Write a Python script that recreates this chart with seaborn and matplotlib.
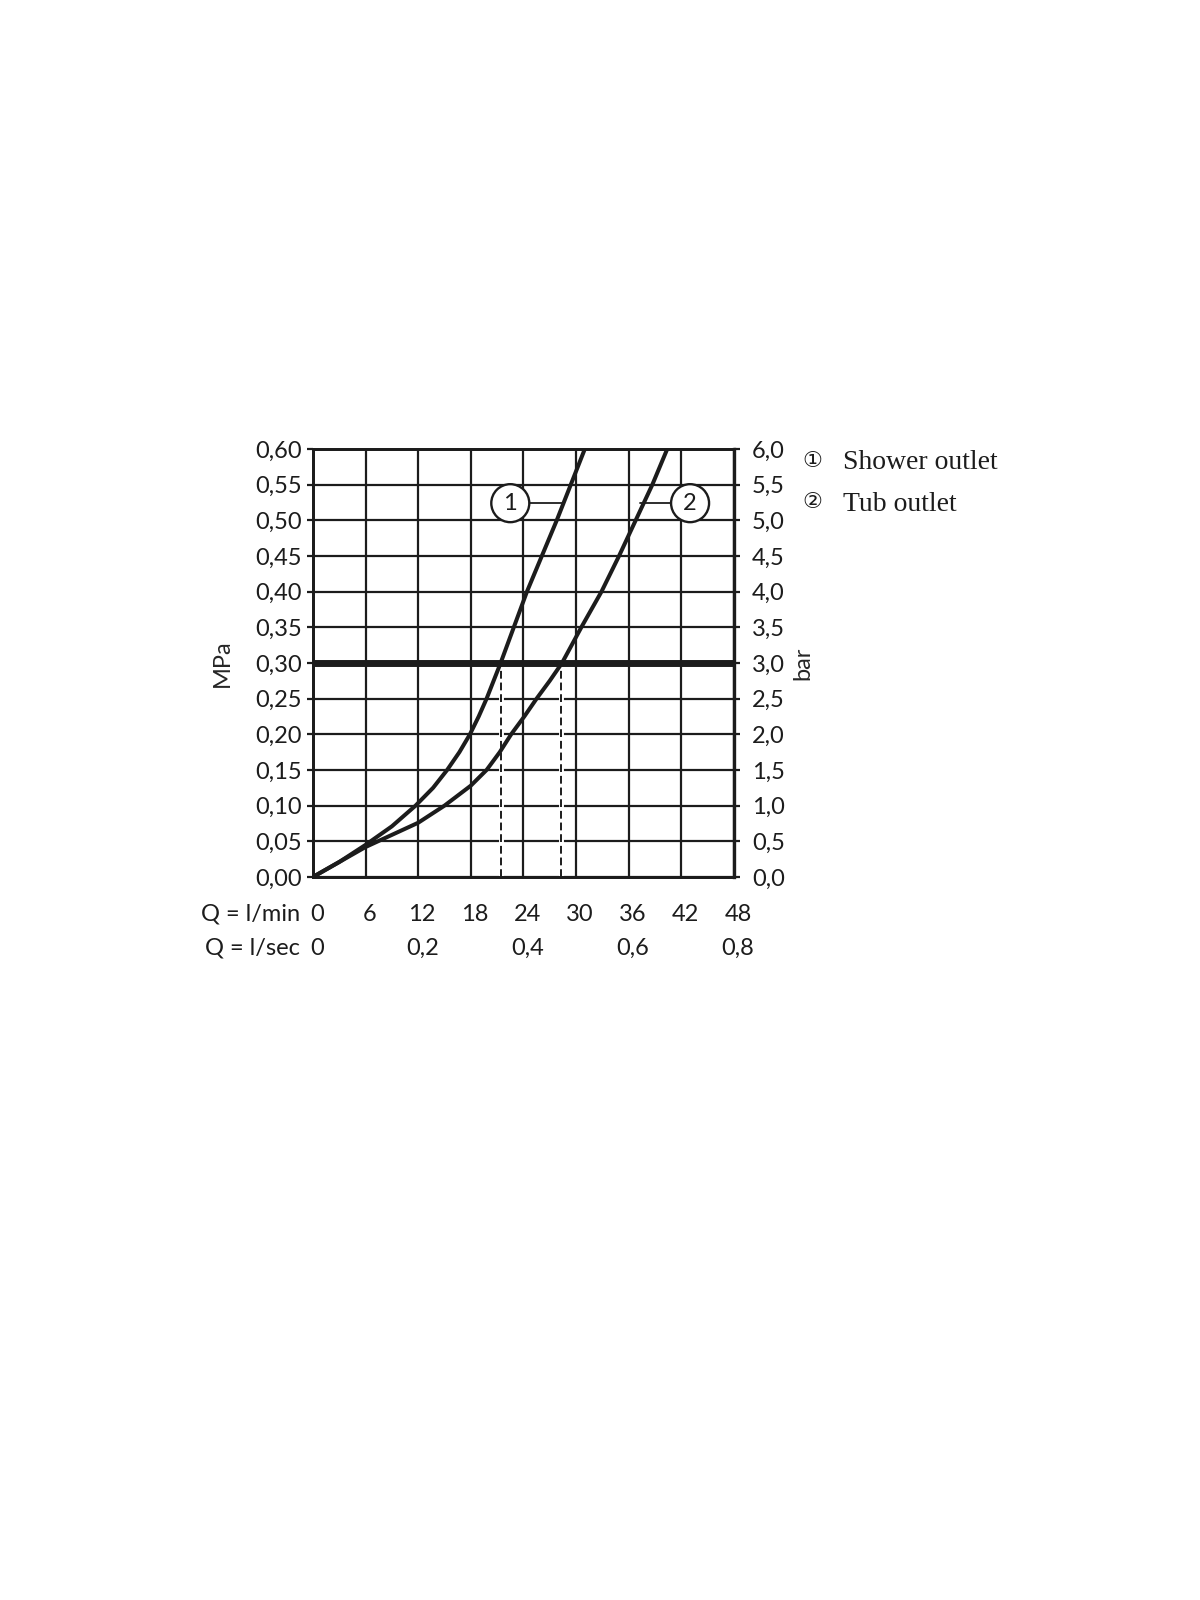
import matplotlib
matplotlib.use('Agg')
import matplotlib.pyplot as plt
import matplotlib.transforms as mtransforms
import seaborn as sns
import pandas as pd

# flow (l/min) vs pressure (MPa)
shower_q = [0, 3, 6, 9, 11.7, 13.7, 15.3, 16.7, 17.9, 18.9, 19.8, 20.6, 21.4, 22.9, 24.4, 26.1, 27.8, 29.4, 31.0]
shower_p = [0, 0.021, 0.045, 0.071, 0.10, 0.125, 0.15, 0.175, 0.20, 0.225, 0.25, 0.275, 0.30, 0.35, 0.40, 0.45, 0.50, 0.55, 0.60]
tub_q = [0, 3, 6, 9, 12, 15, 18, 19.8, 21.3, 22.6, 24.1, 25.5, 27.0, 28.4, 30.6, 32.9, 34.9, 36.8, 38.7, 40.4]
tub_p = [0, 0.021, 0.042, 0.059, 0.076, 0.10, 0.128, 0.15, 0.175, 0.20, 0.225, 0.25, 0.275, 0.30, 0.35, 0.40, 0.45, 0.50, 0.55, 0.60]

ref_pressure = 0.30
ref_flows = [21.4, 28.3]

lmin_ticks = [0, 6, 12, 18, 24, 30, 36, 42, 48]
lsec_ticks = [0, 0.2, 0.4, 0.6, 0.8]
mpa_ticks = [0, 0.05, 0.10, 0.15, 0.20, 0.25, 0.30, 0.35, 0.40, 0.45, 0.50, 0.55, 0.60]
bar_ticks = [0, 0.5, 1.0, 1.5, 2.0, 2.5, 3.0, 3.5, 4.0, 4.5, 5.0, 5.5, 6.0]

mpa_labels = [f'{v:.2f}'.replace('.', ',') for v in mpa_ticks]
bar_labels = [f'{v:.1f}'.replace('.', ',') for v in bar_ticks]
lsec_labels = ['0' if v == 0 else f'{v:.1f}'.replace('.', ',') for v in lsec_ticks]

# callout circles: label, (q, p) of circle, q where leader meets curve
callouts = [('1', 22.5, 0.524, 28.6), ('2', 43.0, 0.524, 37.3)]
legend_items = ['Shower outlet', 'Tub outlet']

df = pd.concat([
    pd.DataFrame({'Q': shower_q, 'P': shower_p, 'outlet': 'shower'}),
    pd.DataFrame({'Q': tub_q, 'P': tub_p, 'outlet': 'tub'}),
])

ink = '#1c1c1c'
sns.set_style('white')
plt.rcParams['font.family'] = ['Lato', 'DejaVu Sans']
plt.rcParams['text.color'] = ink

fig = plt.figure(figsize=(12, 16), dpi=100)
ax = fig.add_axes([0.2608, 0.4519, 0.3508, 0.2675])

for name in ['shower', 'tub']:
    sns.lineplot(data=df[df.outlet == name], x='Q', y='P', color=ink, lw=2.9, ax=ax,
                 zorder=4, solid_joinstyle='round')

ax.axhline(ref_pressure, color=ink, lw=5, zorder=3)
ax.vlines(ref_flows, 0, ref_pressure, color='white', lw=3.5, zorder=2.2)
ax.vlines(ref_flows, 0, ref_pressure, color=ink, lw=1.4, linestyles=(0, (4, 2)), zorder=2.3)

for lab, cq, cp, eq in callouts:
    ax.plot([cq, eq], [cp, cp], color=ink, lw=1.3, zorder=3)
    ax.text(cq, cp, lab, ha='center', va='center', fontsize=17, zorder=5,
            bbox=dict(boxstyle='circle,pad=0.36', fc='white', ec=ink, lw=1.7))

ax.set_xlim(0, 48)
ax.set_ylim(0, 0.60)
ax.set_xticks(lmin_ticks, [str(v) for v in lmin_ticks])
ax.set_yticks(mpa_ticks, mpa_labels)
ax.grid(True, color=ink, lw=1.6)
for s in ax.spines.values():
    s.set_color(ink)
    s.set_linewidth(2.0)
ax.tick_params(axis='y', direction='out', length=4.5, width=1.6, pad=3.5, labelsize=17, colors=ink)
ax.tick_params(axis='x', direction='out', length=3.6, width=1.6, pad=16, labelsize=17, colors=ink)
ax.set_xlabel('')
ax.set_ylabel('MPa', fontsize=17)
ax.yaxis.set_label_coords(-0.19, 0.5)

# labels sit a little right of their ticks in the original
shift = mtransforms.ScaledTranslation(4 / 100, 0, fig.dpi_scale_trans)
for t in ax.get_xticklabels():
    t.set_transform(t.get_transform() + shift)

ax2 = ax.twinx()
ax2.set_ylim(0, 6)
ax2.set_yticks(bar_ticks, bar_labels)
ax2.tick_params(axis='y', direction='out', length=4.5, width=1.6, pad=8.6, labelsize=17, colors=ink)
for s in ax2.spines.values():
    s.set_color(ink)
    s.set_linewidth(2.0)
ax2.spines['right'].set_linewidth(2.4)
ax2.set_ylabel('bar', fontsize=17, rotation=90)
ax2.yaxis.set_label_coords(1.14, 0.5)

sec = ax.secondary_xaxis('bottom', functions=(lambda q: q / 60, lambda s: s * 60))
sec.set_xticks(lsec_ticks, lsec_labels)
sec.tick_params(length=0, pad=44, labelsize=17, colors=ink)
sec.spines['bottom'].set_visible(False)
for t in sec.get_xticklabels():
    t.set_transform(t.get_transform() + shift)

ax.text(-0.031, -0.087, 'Q = l/min', transform=ax.transAxes, ha='right', va='center', fontsize=17)
ax.text(-0.031, -0.1660, 'Q = l/sec', transform=ax.transAxes, ha='right', va='center', fontsize=17)

marks = ['\u2460', '\u2461']
for i, (m, t) in enumerate(zip(marks, legend_items)):
    fig.text(0.6767, 0.7119 - i * 0.0256, m, ha='center', va='center', fontsize=16,
             family=['DejaVu Sans', 'Noto Sans CJK JP'])
    fig.text(0.7025, 0.7069 - i * 0.0263, t, ha='left', va='baseline', fontsize=20,
             family=['Liberation Serif', 'DejaVu Serif'])

fig.savefig('out.png', dpi=100)
